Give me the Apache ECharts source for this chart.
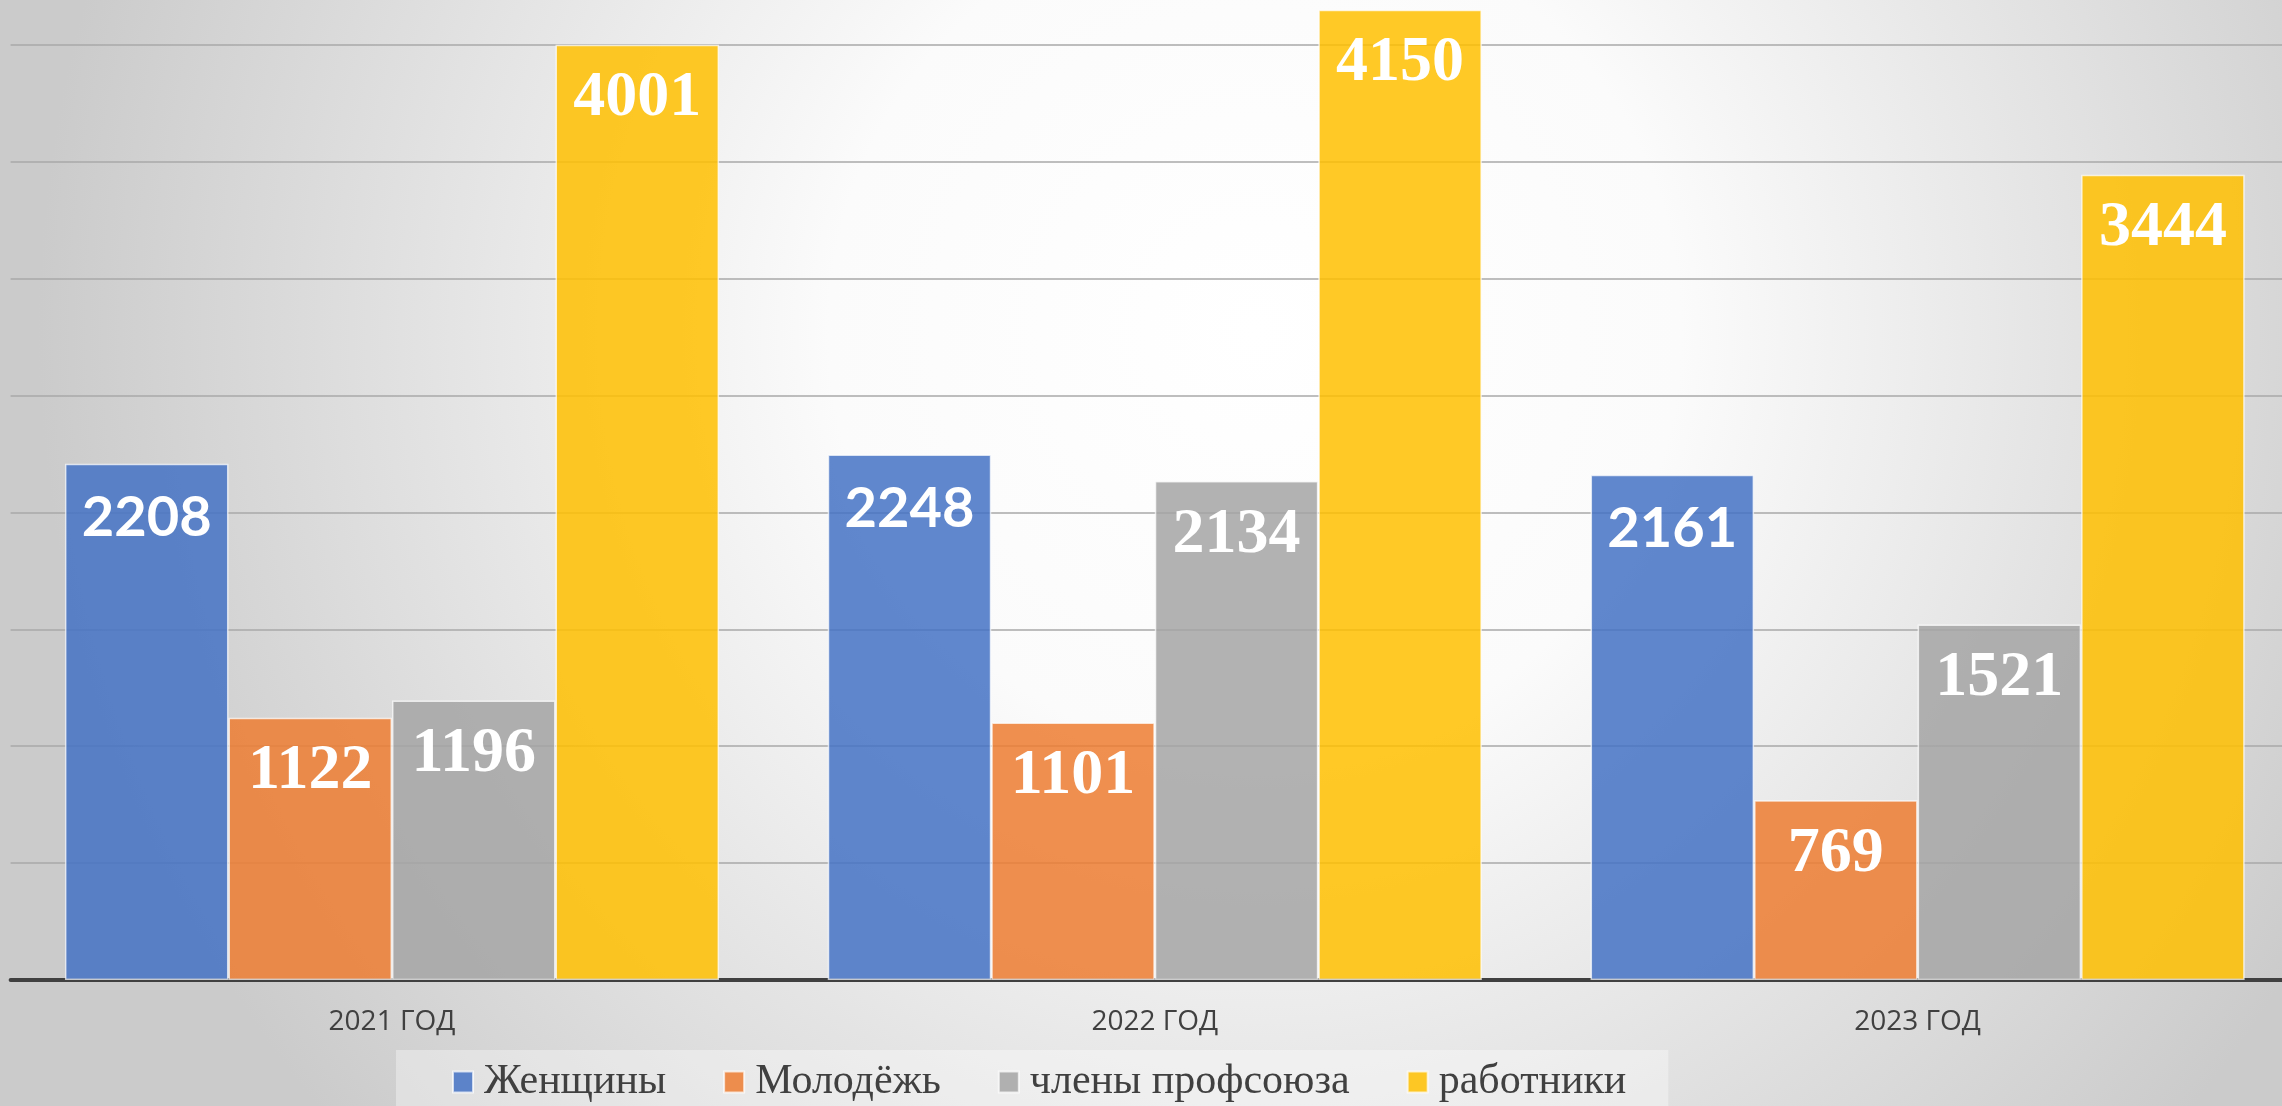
<!DOCTYPE html>
<html>
<head>
<meta charset="utf-8">
<script src="https://cdn.jsdelivr.net/npm/echarts@6/dist/echarts.min.js"></script>
<style>
    html, body { margin: 0; padding: 0; }
    #chart { width: 2282px; height: 1106px; }
</style>
</head>
<body>
<div id="chart"></div>
<script>
// годы и ряды
var years = ['2021 ГОД', '2022 ГОД', '2023 ГОД'];
var seriesNames = ['Женщины', 'Молодёжь', 'члены профсоюза', 'работники'];
var women = [2208, 2248, 2161];
var youth = [1122, 1101, 769];
var members = [1196, 2134, 1521];
var workers = [4001, 4150, 3444];
var colors = ['rgba(68,114,196,0.85)', 'rgba(237,125,49,0.85)', 'rgba(165,165,165,0.85)', 'rgba(255,192,0,0.85)'];

var myChart = echarts.init(document.getElementById('chart'));

function makeSeries(idx, data, sans) {
    return {
        name: seriesNames[idx],
        type: 'bar',
        data: data,
        barGap: '0%',
        barCategoryGap: '14.25%',
        itemStyle: {
            color: colors[idx],
            borderColor: 'rgba(255,255,255,0.7)',
            borderWidth: 1.5
        },
        label: {
            show: true,
            position: 'insideTop',
            distance: sans ? 26 : 22,
            color: '#ffffff',
            fontWeight: 'bold',
            fontFamily: sans ? 'Lato' : 'Liberation Serif',
            fontSize: sans ? 56 : 64
        }
    };
}

var option = {
    backgroundColor: {
        type: 'radial',
        x: 0.55,
        y: 0.3,
        r: 1.1,
        colorStops: [
            { offset: 0, color: '#ffffff' },
            { offset: 0.35, color: '#fbfbfb' },
            { offset: 1, color: '#cbcbcb' }
        ]
    },
    animation: false,
    legend: {
        left: 396,
        top: 1050,
        padding: [10, 42, 30, 56],
        backgroundColor: 'rgba(255,255,255,0.35)',
        itemWidth: 20,
        itemHeight: 21,
        itemGap: 57,
        icon: 'rect',
        selectedMode: false,
        textStyle: {
            color: '#404040',
            fontFamily: 'Liberation Serif',
            fontSize: 42,
            lineHeight: 44,
            padding: [0, 0, 0, 6]
        },
        data: seriesNames
    },
    grid: {
        left: 10.6,
        right: -17,
        top: -72,
        bottom: 126,
        outerBoundsMode: 'none'
    },
    xAxis: {
        type: 'category',
        data: years,
        axisTick: { show: false },
        axisLine: {
            lineStyle: { color: '#404040', width: 4 }
        },
        axisLabel: {
            color: '#404040',
            fontFamily: 'Open Sans',
            fontSize: 28,
            margin: 28
        }
    },
    yAxis: {
        type: 'value',
        min: 0,
        max: 4500,
        interval: 500,
        axisLabel: { show: false },
        axisLine: { show: false },
        axisTick: { show: false },
        splitLine: {
            lineStyle: { color: '#a8a8a8', width: 1.5 }
        }
    },
    series: [
        makeSeries(0, women, true),
        makeSeries(1, youth, false),
        makeSeries(2, members, false),
        makeSeries(3, workers, false)
    ]
};

myChart.setOption(option);
</script>
</body>
</html>
